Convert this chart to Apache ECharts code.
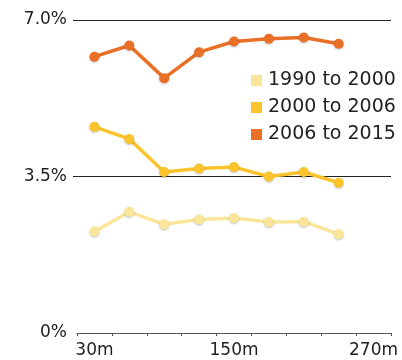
<!DOCTYPE html>
<html>
<head>
<meta charset="utf-8">
<script src="https://cdn.jsdelivr.net/npm/echarts@6/dist/echarts.min.js"></script>
<style>
  html, body { margin: 0; padding: 0; background: #ffffff; }
  #chart { width: 402px; height: 360px; }
</style>
</head>
<body>
<div id="chart"></div>
<script>
// Travel time buckets (minutes); the last bucket has no data.
const categories = ['30m', '60m', '90m', '120m', '150m', '180m', '210m', '240m', '270m'];

// Annual growth rate (%) per period
const growth1990to2000 = [2.27, 2.71, 2.43, 2.54, 2.57, 2.48, 2.49, 2.21, null];
const growth2000to2006 = [4.61, 4.34, 3.60, 3.68, 3.71, 3.50, 3.60, 3.36, null];
const growth2006to2015 = [6.18, 6.43, 5.70, 6.28, 6.52, 6.58, 6.61, 6.47, null];

const seriesNames = ['1990 to 2000', '2000 to 2006', '2006 to 2015'];
const seriesColors = ['#fae69a', '#fcc42c', '#ea6f27'];
const yTicks = [0, 3.5, 7];

const font = 'DejaVu Sans';
const chart = echarts.init(document.getElementById('chart'), null, { renderer: 'canvas' });

function lineSeries(name, data, color) {
  return {
    name: name,
    type: 'line',
    data: data,
    symbol: 'circle',
    symbolSize: 10,
    lineStyle: { width: 3.5, color: color },
    itemStyle: {
      color: color,
      shadowColor: 'rgba(0,0,0,0.25)',
      shadowBlur: 2,
      shadowOffsetY: 1
    },
    emphasis: { disabled: true },
    animation: false
  };
}

chart.setOption({
  animation: false,
  grid: { left: 77, right: 11, top: 20, bottom: 27 },
  legend: {
    orient: 'vertical',
    left: 251,
    top: 71,
    padding: 0,
    itemWidth: 11,
    itemHeight: 11,
    itemGap: 8,
    icon: 'rect',
    textStyle: { fontFamily: font, fontSize: 19, color: '#222', padding: [0, 0, 0, 1] },
    data: seriesNames
  },
  xAxis: {
    type: 'category',
    data: categories,
    boundaryGap: true,
    axisLine: { lineStyle: { color: '#555', width: 1 } },
    axisTick: { show: true, interval: 0, length: 3, lineStyle: { color: '#555' } },
    axisLabel: {
      interval: 3,
      margin: 9,
      fontFamily: font,
      fontSize: 17,
      color: '#222'
    },
    splitLine: { show: false }
  },
  yAxis: {
    type: 'value',
    min: yTicks[0],
    max: yTicks[yTicks.length - 1],
    interval: 3.5,
    axisLine: { show: false },
    axisTick: {
      show: true,
      length: 4,
      customValues: yTicks.slice(1),
      lineStyle: { color: '#222' }
    },
    axisLabel: {
      margin: 10,
      fontFamily: font,
      fontSize: 17,
      color: '#222',
      formatter: function (v) { return v === 0 ? '0%' : v.toFixed(1) + '%'; }
    },
    splitLine: { show: true, lineStyle: { color: '#222', width: 1 } }
  },
  series: [
    lineSeries(seriesNames[0], growth1990to2000, seriesColors[0]),
    lineSeries(seriesNames[1], growth2000to2006, seriesColors[1]),
    lineSeries(seriesNames[2], growth2006to2015, seriesColors[2])
  ]
});
</script>
</body>
</html>
